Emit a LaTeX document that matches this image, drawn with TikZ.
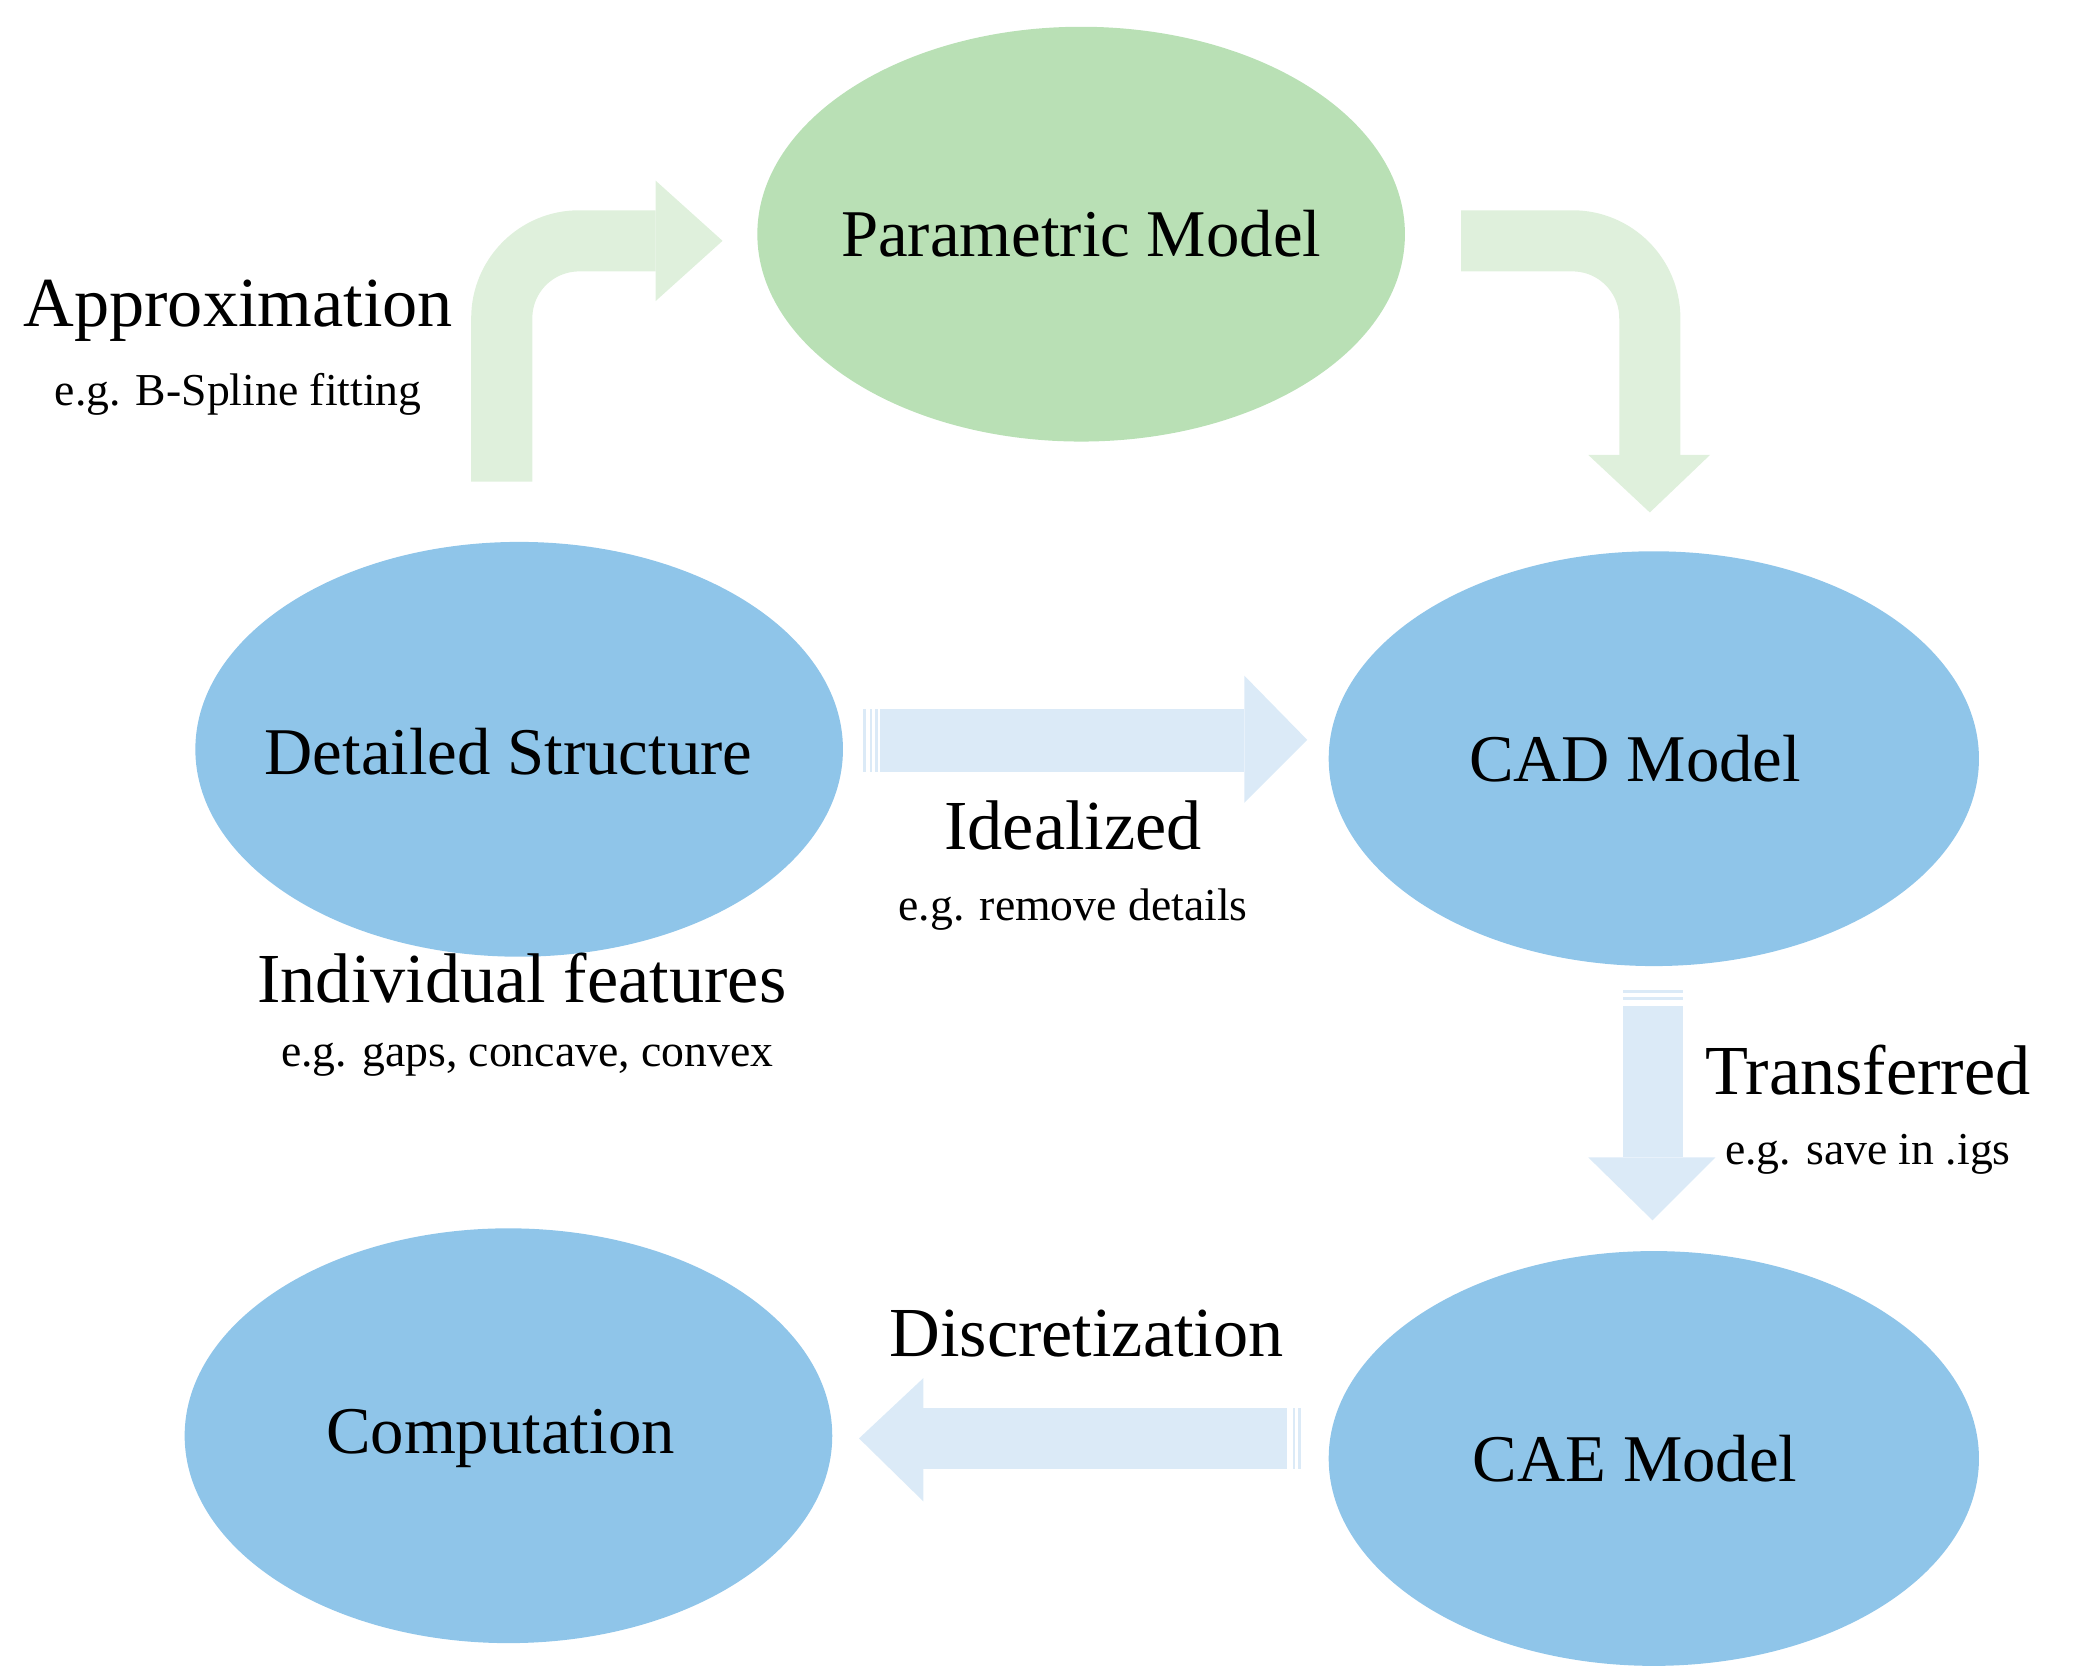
\documentclass[tikz,border=0pt]{standalone}
\usepackage{fontspec}
\setmainfont{Liberation Serif}
\definecolor{ell}{HTML}{8FC5E9}
\definecolor{pm}{HTML}{B9E0B5}
\definecolor{garr}{HTML}{DFF0DC}
\definecolor{barr}{HTML}{DBEAF7}
\begin{document}
\begin{tikzpicture}[x=0.01338cm,y=-0.01338cm,
  el/.style={ellipse, fill=ell, minimum width=485\pgflinewidth, inner sep=0pt},
  big/.style={font=\fontsize{19}{22}\selectfont},
  lab/.style={font=\fontsize{20}{24}\selectfont},
  sm/.style={font=\fontsize{13}{16}\selectfont},
  shaft/.style={line width=17.4pt, line cap=butt, rounded corners=22pt}]
\useasboundingbox (0,0) rectangle (1556,1253);
% ellipses
\fill[pm] (808,175) ellipse [x radius=242, y radius=155];
\fill[ell] (388,560) ellipse [x radius=242, y radius=155];
\fill[ell] (1236,567) ellipse [x radius=243, y radius=155];
\fill[ell] (380,1073) ellipse [x radius=242, y radius=155];
\fill[ell] (1236,1090) ellipse [x radius=243, y radius=155];
\node[big] (pm) at (808,175) {Parametric Model};
\node[big] (ds) at (380,562) {Detailed Structure};
\node[big] (cad) at (1222,567) {CAD Model};
\node[big] (comp) at (374,1075) {Computation};
\node[big] (cae) at (1222,1090) {CAE Model};
% approximation arrow
\coordinate (a0) at (375,360); \coordinate (a1) at (490,180);
\draw[garr, shaft] (a0) -- (375,180) -- (a1);
\fill[garr] (490,135) -- (540,180) -- (490,225) -- cycle;
% right bent arrow
\coordinate (b0) at (1092,180); \coordinate (b1) at (1233,340);
\draw[garr, shaft] (b0) -- (1233,180) -- (b1);
\fill[garr] (1187,340) -- (1233,383) -- (1278,340) -- cycle;
% idealized arrow
\fill[barr] (658,530) rectangle (930,577);
\foreach \x in {645,650,654} \fill[barr] (\x,530) rectangle (\x+2,577);
\fill[barr] (930,505) -- (977,553) -- (930,600) -- cycle;
% transferred arrow
\fill[barr] (1213,752) rectangle (1258,865);
\foreach \y in {740,745} \fill[barr] (1213,\y) rectangle (1258,\y+2);
\fill[barr] (1187,865) -- (1235,912) -- (1282,865) -- cycle;
% discretization arrow
\fill[barr] (690,1052) rectangle (962,1098);
\foreach \x in {966,970} \fill[barr] (\x,1052) rectangle (\x+2,1098);
\fill[barr] (690,1030) -- (642,1075) -- (690,1122) -- cycle;
% labels
\node[lab] (l1) at (178,232) {Approximation};
\node[sm] (s1) at (178,295) {e.g. B-Spline fitting};
\node[lab] (l2) at (802,617) {Idealized};
\node[sm] (s2) at (802,680) {e.g. remove details};
\node[lab] (l3) at (390,731) {Individual features};
\node[sm] (s3) at (394,792) {e.g. gaps, concave, convex};
\node[lab] (l4) at (1396,800) {Transferred};
\node[sm] (s4) at (1396,863) {e.g. save in .igs};
\node[lab] (l5) at (812,997) {Discretization};
\end{tikzpicture}
\end{document}
